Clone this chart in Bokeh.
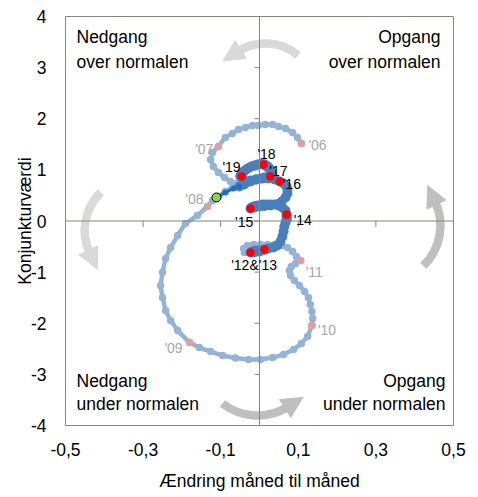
import math
from bokeh.plotting import figure
from bokeh.models import Range1d, FixedTicker, Label, Span, Arrow, NormalHead
from bokeh.embed import file_html
from bokeh.resources import INLINE

FONT = "Liberation Sans"

# ---------------- data ----------------
# 2006 -> 2012 (light blue)
light_x = [0.108, 0.098, 0.085, 0.067, 0.049, 0.034, 0.015, -0.003, -0.018, -0.036, -0.054, -0.070, -0.088,
           -0.106, -0.121, -0.126, -0.119, -0.106, -0.090, -0.075, -0.059, -0.070, -0.088, -0.106, -0.121,
           -0.134, -0.160, -0.191, -0.211, -0.229, -0.242, -0.250, -0.255, -0.250, -0.242, -0.229, -0.211,
           -0.180, -0.155, -0.126, -0.095, -0.062, -0.028, 0.003, 0.034, 0.062, 0.088, 0.108, 0.124,
           0.135, 0.137, 0.135, 0.131, 0.126, 0.116, 0.103, 0.090, 0.080, 0.077, 0.082, 0.093,
           0.106, 0.095, 0.085, 0.072, 0.057, 0.039, 0.021, 0.003, -0.015, -0.031, -0.041, -0.039,
           -0.023]
light_y = [1.517, 1.634, 1.732, 1.810, 1.849, 1.888, 1.888, 1.869, 1.869, 1.830, 1.791, 1.712, 1.634,
           1.458, 1.341, 1.204, 1.067, 0.949, 0.851, 0.773, 0.734, 0.656, 0.577, 0.479, 0.401,
           0.284, 0.108, -0.049, -0.284, -0.519, -0.734, -1.002, -1.262, -1.497, -1.751, -1.947, -2.143,
           -2.378, -2.476, -2.554, -2.632, -2.681, -2.710, -2.710, -2.671, -2.613, -2.515, -2.397, -2.260,
           -2.045, -1.908, -1.771, -1.634, -1.497, -1.380, -1.262, -1.164, -1.067, -0.969, -0.890, -0.832,
           -0.773, -0.695, -0.597, -0.519, -0.479, -0.460, -0.460, -0.460, -0.460, -0.479, -0.538, -0.616,
           -0.616]

# 2012 -> 2019 (dark blue)
dark_x = [-0.023, -0.015, -0.008, 0.000, -0.010, -0.018, -0.010, -0.003, 0.005, 0.010, 0.013,
          0.023, 0.036, 0.046, 0.054, 0.059, 0.062, 0.064, 0.067, 0.070, 0.070, 0.070, 0.070,
          0.067, 0.059, 0.049, 0.039, 0.028, 0.018, 0.008, -0.003, -0.010, -0.015, -0.021, -0.023,
          -0.013, 0.000, 0.013, 0.028, 0.044, 0.057, 0.067, 0.072, 0.072, 0.070, 0.062, 0.052,
          0.039, 0.023, 0.008, -0.008, -0.023, -0.034, -0.023, -0.010, 0.003, 0.013, 0.021, 0.028,
          0.031, 0.031, 0.028, 0.026, 0.023, 0.021, 0.018, 0.015, 0.013, 0.013, 0.012, 0.010,
          0.003, -0.005, -0.013, -0.021, -0.028, -0.034, -0.039, -0.044, -0.046, -0.049, -0.049, -0.046,
          -0.039, -0.039, -0.052]
dark_y = [-0.616, -0.616, -0.597, -0.597, -0.597, -0.597, -0.577, -0.577, -0.577, -0.567, -0.558,
          -0.538, -0.519, -0.479, -0.401, -0.303, -0.205, -0.108, -0.029, 0.029, 0.068, 0.098, 0.127,
          0.205, 0.264, 0.303, 0.323, 0.323, 0.323, 0.323, 0.303, 0.294, 0.284, 0.264, 0.245,
          0.264, 0.284, 0.294, 0.303, 0.323, 0.382, 0.460, 0.538, 0.616, 0.675, 0.734, 0.773,
          0.812, 0.832, 0.832, 0.812, 0.793, 0.753, 0.773, 0.812, 0.832, 0.851, 0.861, 0.871,
          0.910, 0.949, 0.988, 1.027, 1.047, 1.067, 1.076, 1.086, 1.096, 1.106, 1.106, 1.106,
          1.115, 1.106, 1.086, 1.067, 1.037, 1.008, 0.978, 0.949, 0.920, 0.890, 0.871, 0.871,
          0.793, 0.714, 0.675]

# latest months (bright blue), ending at the green point
recent_x = [-0.052, -0.067, -0.088, -0.111]
recent_y = [0.675, 0.636, 0.558, 0.460]

# year markers
year_labels = ["'06", "'07", "'08", "'09", "'10", "'11", "'12&'13", "'14", "'15", "'16", "'17", "'18", "'19"]
year_x = [0.108, -0.106, -0.134, -0.180, 0.135, 0.106, -0.023, 0.070, -0.023, 0.052, 0.028, 0.010, -0.046]
year_y = [1.517, 1.458, 0.284, -2.378, -2.045, -0.773, -0.616, 0.127, 0.245, 0.773, 0.871, 1.106, 0.871]
extra_red_x = [0.013]   # '13 marker
extra_red_y = [-0.558]

xticks = [-0.5, -0.3, -0.1, 0.1, 0.3, 0.5]
xtick_labels = ["-0,5", "-0,3", "-0,1", "0,1", "0,3", "0,5"]
yticks = [-4, -3, -2, -1, 0, 1, 2, 3, 4]
ytick_labels = ["-4", "-3", "-2", "-1", "0", "1", "2", "3", "4"]

quadrant_texts = [("Nedgang", "over normalen"), ("Opgang", "over normalen"),
                  ("Nedgang", "under normalen"), ("Opgang", "under normalen")]

# ---------------- styling ----------------
AXC = "#86867a"
LIGHT = "#95B3D7"
DARK = "#4A7EBB"
BRIGHT = "#1F6FC0"
PINK = "#E0A0A0"
GREYTXT = "#A6A6A6"

PX_X = 1.0 / 388.0   # data units per screen px (x)
PX_Y = 8.0 / 409.0   # data units per screen px (y)

p = figure(width=478, height=497, output_backend="svg", toolbar_location=None,
           x_range=Range1d(-0.5, 0.5), y_range=Range1d(-4, 4),
           min_border_left=65, min_border_right=25, min_border_top=16, min_border_bottom=72)
p.grid.visible = False
p.outline_line_color = AXC
p.outline_line_width = 1
p.background_fill_color = "white"
p.border_fill_color = "white"

for ax in (p.xaxis[0], p.yaxis[0]):
    ax.axis_line_color = None
    ax.major_tick_line_color = None
    ax.minor_tick_line_color = None
    ax.major_tick_out = 0
    ax.major_tick_in = 0
    ax.major_label_text_font = FONT
    ax.major_label_text_font_size = "17.5px"
    ax.major_label_text_color = "black"
    ax.axis_label_text_font = FONT
    ax.axis_label_text_font_size = "17.5px"
    ax.axis_label_text_font_style = "normal"
    ax.axis_label_text_color = "black"
p.xaxis.ticker = FixedTicker(ticks=xticks)
p.xaxis.major_label_overrides = {t: l for t, l in zip(xticks, xtick_labels)}
p.xaxis.major_label_standoff = 17
p.xaxis.axis_label = "Ændring måned til måned"
p.xaxis.axis_label_standoff = 12
p.yaxis.ticker = FixedTicker(ticks=yticks)
p.yaxis.major_label_overrides = {t: l for t, l in zip(yticks, ytick_labels)}
p.yaxis.major_label_standoff = 19
p.yaxis.axis_label = "Konjunkturværdi"
p.yaxis.axis_label_standoff = -7

# centre axes
p.add_layout(Span(location=0, dimension="width", line_color=AXC, line_width=1))
p.add_layout(Span(location=0, dimension="height", line_color=AXC, line_width=1))
p.segment(x0=xticks, y0=[0] * len(xticks), x1=xticks, y1=[-6 * PX_Y] * len(xticks),
          line_color=AXC, line_width=1)
p.segment(x0=[0] * len(yticks), y0=yticks, x1=[-5 * PX_X] * len(yticks), y1=yticks,
          line_color=AXC, line_width=1)

# cycle arrows: (centre x, centre y, radius px, tail deg, head deg, colour)
arrows = [(0.015, 2.475, 51, 50, 122, "#D9D9D9"),
          (-0.314, -0.186, 53, 134, 205, "#D9D9D9"),
          (-0.005, -2.691, 57, 232, 302, "#BFBFBF"),
          (0.322, -0.088, 56, -46, 25, "#BFBFBF")]
for cx, cy, R, a0, a1, col in arrows:
    p.arc(x=[cx], y=[cy], radius=R, radius_units="screen",
          start_angle=math.radians(a0), end_angle=math.radians(a1),
          line_color=col, line_width=8.5)
    ex = cx + R * math.cos(math.radians(a1)) * PX_X
    ey = cy + R * math.sin(math.radians(a1)) * PX_Y
    d = math.radians(a1 + 90)
    tx = ex + 18 * math.cos(d) * PX_X
    ty = ey + 18 * math.sin(d) * PX_Y
    p.add_layout(Arrow(end=NormalHead(size=21, fill_color=col, line_color=col),
                       x_start=ex, y_start=ey, x_end=tx, y_end=ty,
                       line_color=col, line_width=1, line_alpha=0))

# light path
p.line(light_x, light_y, line_color=LIGHT, line_width=4.5)
p.scatter(light_x, light_y, size=7.5, fill_color=LIGHT, line_color=None)
# dark path
p.line(dark_x, dark_y, line_color=DARK, line_width=8, line_join="round")
p.scatter(dark_x, dark_y, size=10, fill_color=DARK, line_color=None)
# recent
rx = [dark_x[-1]] + recent_x
ry = [dark_y[-1]] + recent_y
p.line(rx, ry, line_color=BRIGHT, line_width=3)
p.scatter(recent_x[:-1], recent_y[:-1], size=6, fill_color=BRIGHT, line_color=None)

# year markers
p.scatter(year_x[:6], year_y[:6], size=7.5, fill_color=PINK, line_color=None)
p.scatter(year_x[6:] + extra_red_x, year_y[6:] + extra_red_y, size=8.5, fill_color="red", line_color=None)
p.scatter([recent_x[-1]], [recent_y[-1]], size=9, fill_color="#92D050", line_color="black", line_width=1)

# year labels: (dx, dy up, align)
offs = [(7, -2, "left"), (-5, -3, "right"), (-4, 7, "right"), (-7, -5, "right"), (6, -4, "left"),
        (5, -11, "left"), (3.5, -13, "center"), (7, -5, "left"), (-6.5, -14, "center"),
        (3, -3, "left"), (-1, 5, "left"), (-6, 10, "left"), (-1, 9, "right")]
for i, (lab, x, y) in enumerate(zip(year_labels, year_x, year_y)):
    dx, dy, al = offs[i]
    p.add_layout(Label(x=x, y=y, x_offset=dx, y_offset=dy, text=lab, text_align=al,
                       text_baseline="middle", text_font=FONT, text_font_size="14px",
                       text_color=GREYTXT if i < 6 else "black"))

# quadrant texts
qpos = [(-0.5, 11, "left", 3.60, 3.11), (0.5, -13, "right", 3.60, 3.11),
        (-0.5, 11, "left", -3.12, -3.58), (0.5, -8, "right", -3.12, -3.58)]
for (l1, l2), (x, dx, al, y1, y2) in zip(quadrant_texts, qpos):
    for t, y in ((l1, y1), (l2, y2)):
        p.add_layout(Label(x=x, y=y, x_offset=dx, text=t, text_align=al, text_baseline="middle",
                           text_font=FONT, text_font_size="17.5px", text_color="black"))

open("out.html", "w").write(file_html(p, INLINE))
